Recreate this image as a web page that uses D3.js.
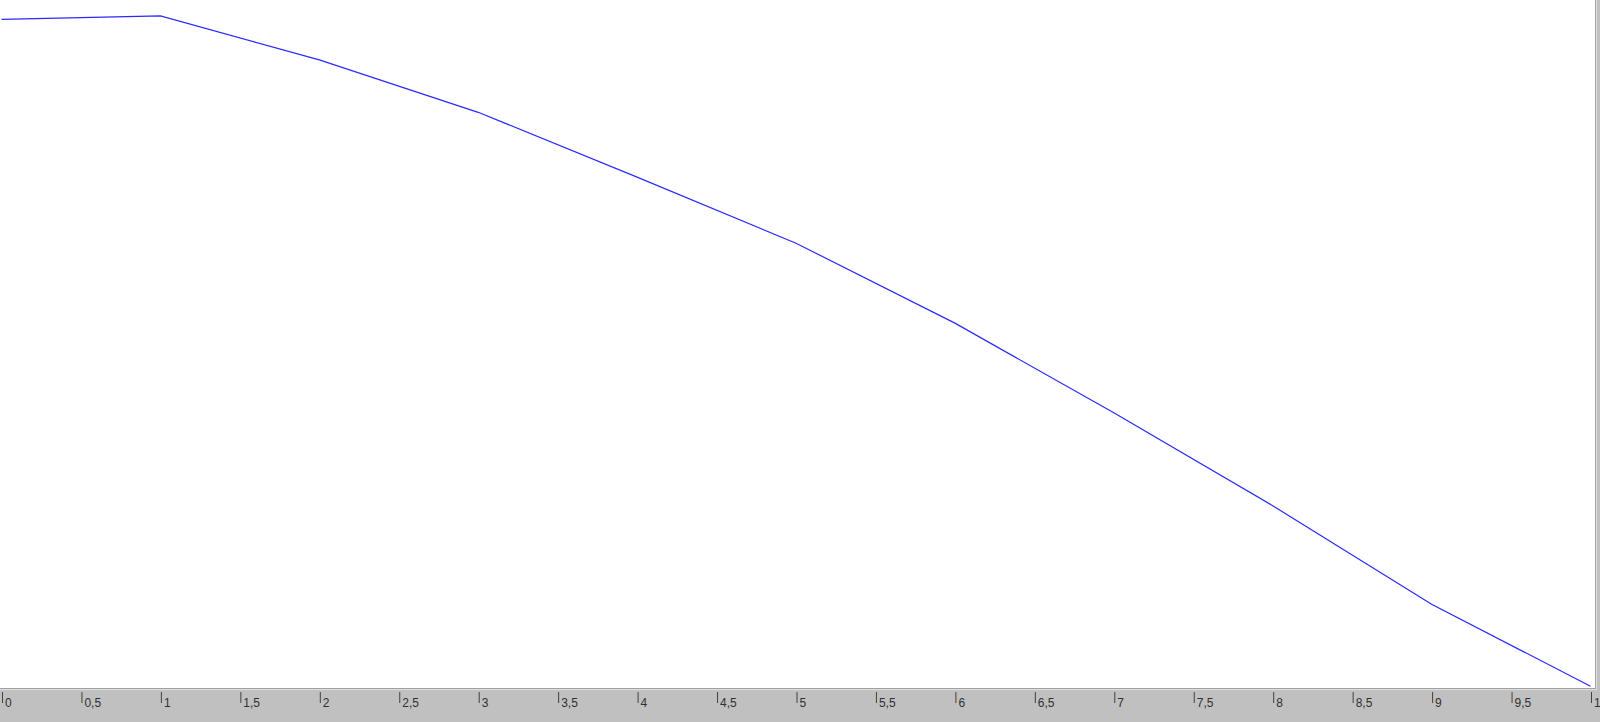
<!DOCTYPE html>
<html>
<head>
<meta charset="utf-8">
<script src="https://cdn.jsdelivr.net/npm/d3@7"></script>
<style>
  html, body { margin: 0; padding: 0; background: #ffffff; overflow: hidden; }
  svg { display: block; }
</style>
</head>
<body>
<svg id="chart" width="1600" height="722"></svg>
<script>
// Data (x in axis units, y in relative units 0..100)
const xValues = [0, 1, 2, 3, 4, 5, 6, 7, 8, 9, 10];
const yValues = [97.2, 97.7, 91.3, 83.7, 74.3, 64.7, 53.1, 40.1, 26.6, 12.3, 0.4];
const tickValues = [0, 0.5, 1, 1.5, 2, 2.5, 3, 3.5, 4, 4.5, 5, 5.5, 6, 6.5, 7, 7.5, 8, 8.5, 9, 9.5, 10];
const tickLabels = ["0", "0,5", "1", "1,5", "2", "2,5", "3", "3,5", "4", "4,5", "5", "5,5", "6", "6,5", "7", "7,5", "8", "8,5", "9", "9,5", "10"];

const W = 1600, H = 722;
const plotRight = 1595, plotBottom = 688;
const svg = d3.select("#chart");

// background panels
svg.append("rect").attr("x", 0).attr("y", 0).attr("width", W).attr("height", H).attr("fill", "#c0c0c0");
svg.append("rect").attr("x", 0).attr("y", 0).attr("width", plotRight).attr("height", plotBottom).attr("fill", "#ffffff");
// borders (bevel style)
svg.append("line").attr("x1", 0).attr("x2", plotRight + 1).attr("y1", plotBottom + 0.5).attr("y2", plotBottom + 0.5)
  .attr("stroke", "#a0a0a0").attr("stroke-width", 1);
svg.append("line").attr("x1", plotRight + 0.5).attr("x2", plotRight + 0.5).attr("y1", 0).attr("y2", plotBottom + 1)
  .attr("stroke", "#a0a0a0").attr("stroke-width", 1);
svg.append("line").attr("x1", 0).attr("x2", plotRight + 2).attr("y1", plotBottom + 1.5).attr("y2", plotBottom + 1.5)
  .attr("stroke", "#e0e0e0").attr("stroke-width", 1);
svg.append("line").attr("x1", plotRight + 1.5).attr("x2", plotRight + 1.5).attr("y1", 0).attr("y2", plotBottom + 2)
  .attr("stroke", "#e0e0e0").attr("stroke-width", 1);

const x = d3.scaleLinear().domain([0, 10]).range([1.5, 1590.5]);
const y = d3.scaleLinear().domain([0, 100]).range([689, 0]);

// axis
const axis = d3.axisBottom(x)
  .tickValues(tickValues)
  .tickSize(0)
  .tickFormat((d, i) => tickLabels[i]);
const ag = svg.append("g").attr("transform", `translate(0, ${plotBottom + 3})`).call(axis);
ag.select(".domain").remove();
ag.selectAll(".tick line").remove();
ag.selectAll(".tick").append("line")
  .attr("x1", 0.5).attr("x2", 0.5).attr("y1", 1).attr("y2", 12)
  .attr("stroke", "#404040").attr("stroke-width", 1);
ag.selectAll(".tick text")
  .attr("x", 3).attr("y", 7).attr("dy", "0.71em")
  .attr("text-anchor", "start")
  .attr("fill", "#303030")
  .style("font-family", "'Liberation Sans', Arial, sans-serif")
  .style("font-size", "12px");

// line
const line = d3.line().x((d, i) => x(xValues[i])).y(d => y(d));
svg.append("path")
  .datum(yValues)
  .attr("d", line)
  .attr("fill", "none")
  .attr("stroke", "#2a2aff")
  .attr("stroke-width", 1.2);
</script>
</body>
</html>
